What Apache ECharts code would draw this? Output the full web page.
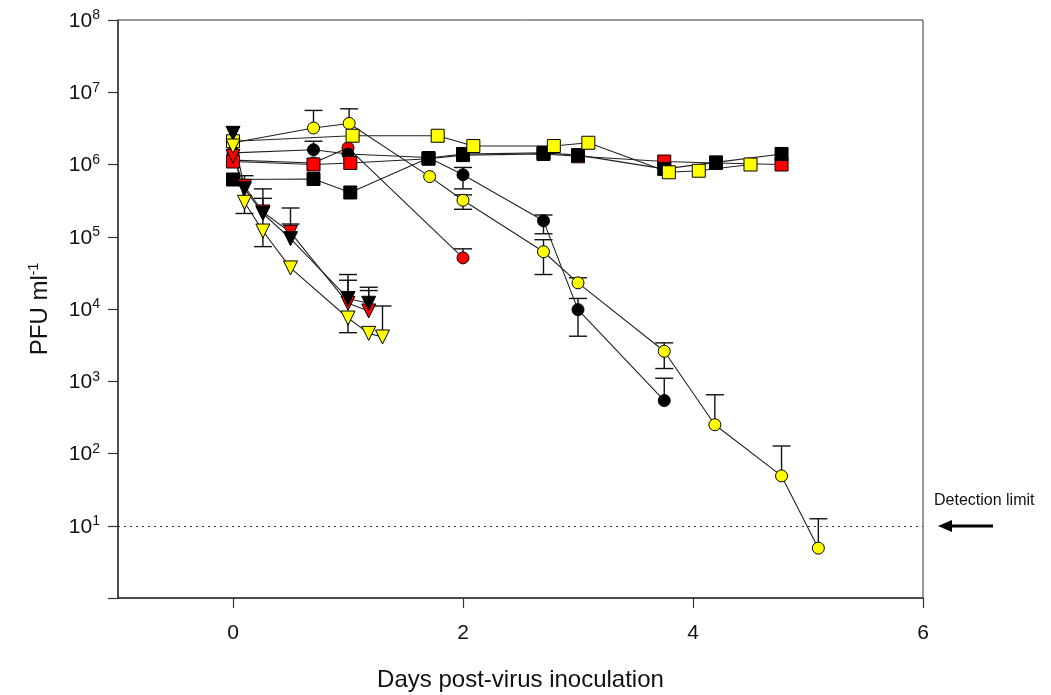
<!DOCTYPE html>
<html>
<head>
<meta charset="utf-8">
<script src="https://cdn.jsdelivr.net/npm/echarts@6/dist/echarts.min.js"></script>
<style>
html,body{margin:0;padding:0;background:#fff;}
#chart{width:1051px;height:695px;}
</style>
</head>
<body>
<div id="chart"></div>
<script>
// ---- data (x = days post-inoculation, y = PFU/ml) ----
const xTickValues = [0, 2, 4, 6];
const detectionLimit = 10;

const blackSquares  = [[0,6.2e5],[0.7,6.3e5],[1.02,4.1e5],[1.7,1.23e6],[2.0,1.4e6],[2.7,1.45e6],[3.0,1.35e6],[3.75,8.7e5],[4.2,1.07e6],[4.77,1.4e6]];
const redSquares    = [[0,1.1e6],[0.7,1.0e6],[1.02,1.05e6],[1.7,1.2e6],[2.0,1.35e6],[2.7,1.4e6],[3.0,1.3e6],[3.75,1.1e6],[4.2,1.05e6],[4.77,1.0e6]];
const yellowSquares = [[0,2.1e6],[1.04,2.5e6],[1.78,2.5e6],[2.09,1.8e6],[2.79,1.8e6],[3.09,2.0e6],[3.79,7.8e5],[4.05,8.2e5],[4.5,1.0e6]];

const blackCircles  = [[0,1.45e6],[0.7,1.6e6],[1.0,1.4e6],[1.7,1.25e6],[2.0,7.2e5],[2.7,1.66e5],[3.0,9.8e3],[3.75,5.4e2]];
const redCircles    = [[0,1.15e6],[0.7,1.05e6],[1.0,1.7e6],[2.0,5.1e4]];
const yellowCircles = [[0,2.0e6],[0.7,3.2e6],[1.01,3.7e6],[1.71,6.8e5],[2.0,3.2e5],[2.7,6.2e4],[3.0,2.3e4],[3.75,2.6e3],[4.19,2.5e2],[4.77,49],[5.09,4.9]];

const blackTriangles  = [[0,2.7e6],[0.1,4.6e5],[0.26,2.1e5],[0.5,9.4e4],[1.0,1.4e4],[1.18,1.2e4]];
const redTriangles    = [[0,1.3e6],[0.1,5.0e5],[0.26,2.2e5],[0.5,1.15e5],[1.0,1.2e4],[1.18,9.4e3]];
const yellowTriangles = [[0,1.8e6],[0.1,3.0e5],[0.26,1.2e5],[0.5,3.7e4],[1.0,7.5e3],[1.18,4.6e3],[1.3,4.1e3]];

// error bars: [x, value, low, high]
const errorBars = [
  [0.7,3.2e6,3.2e6,5.6e6],[1.01,3.7e6,3.7e6,5.9e6],
  [2.0,3.2e5,2.4e5,3.8e5],[2.7,6.2e4,3.0e4,9.1e4],[3.0,2.3e4,2.3e4,2.7e4],
  [3.75,2.6e3,1.5e3,3.4e3],[4.19,2.5e2,2.5e2,6.5e2],[4.77,49,49,127],[5.09,4.9,4.9,12.5],
  [2.0,7.2e5,4.6e5,9.1e5],[2.7,1.66e5,1.1e5,2.0e5],[3.0,9.8e3,4.2e3,1.4e4],[3.75,5.4e2,5.4e2,1.1e3],
  [2.0,5.1e4,5.1e4,6.8e4],[0.7,1.6e6,1.6e6,2.1e6],
  [0.1,4.6e5,4.6e5,7.0e5],[0.26,2.1e5,2.1e5,4.6e5],[0.5,9.4e4,9.4e4,1.5e5],[1.0,1.4e4,1.4e4,2.5e4],[1.18,1.2e4,1.2e4,2.0e4],
  [0.5,1.15e5,1.15e5,2.5e5],[1.0,1.2e4,1.2e4,3.0e4],[1.18,9.4e3,9.4e3,1.8e4],
  [0.1,3.0e5,2.1e5,3.0e5],[0.26,1.2e5,7.3e4,3.4e5],[1.0,7.5e3,4.7e3,7.5e3],[1.3,4.1e3,4.1e3,1.1e4]
];

// ---- chart ----
const chart = echarts.init(document.getElementById('chart'), null, {renderer: 'canvas'});
const FONT = '"Liberation Sans", Arial, sans-serif';
const AX = '#333';

function markerSeries(name, data, symbol, color, size, rotate) {
  return {
    name: name, type: 'line', data: data, symbol: symbol, symbolSize: size,
    symbolRotate: rotate || 0, showSymbol: true,
    lineStyle: {color: '#222', width: 1.1},
    itemStyle: {color: color, borderColor: '#000', borderWidth: 1},
    emphasis: {disabled: true}, z: 3, animation: false
  };
}

const option = {
  animation: false,
  grid: {left: 118, right: 128, top: 20, bottom: 97, show: true, borderColor: AX, borderWidth: 1,
         backgroundColor: 'transparent', containLabel: false, outerBoundsMode: 'none'},
  xAxis: {
    type: 'value', min: -1, max: 6,
    axisLine: {show: true, onZero: false, lineStyle: {color: AX, width: 1.5}},
    axisTick: {show: true, length: 10, customValues: xTickValues, lineStyle: {color: AX, width: 1.2}},
    axisLabel: {customValues: xTickValues, fontFamily: FONT, fontSize: 21, color: '#111', margin: 25},
    splitLine: {show: false},
    name: 'Days post-virus inoculation', nameLocation: 'middle', nameGap: 70,
    nameTextStyle: {fontFamily: FONT, fontSize: 24, color: '#111'}
  },
  yAxis: {
    type: 'log', logBase: 10, min: 1, max: 1e8, splitNumber: 8,
    axisLine: {show: true, onZero: false, lineStyle: {color: AX, width: 1.5}},
    axisTick: {show: true, length: 10, lineStyle: {color: AX, width: 1.2}},
    minorTick: {show: false},
    axisLabel: {
      margin: 18, color: '#111',
      formatter: function (v) {
        const e = Math.round(Math.log10(v));
        if (e < 1) return '';
        return '{b|10}{s|' + e + '}';
      },
      rich: {
        b: {fontFamily: FONT, fontSize: 21, color: '#111', verticalAlign: 'bottom'},
        s: {fontFamily: FONT, fontSize: 14, color: '#111', verticalAlign: 'bottom', padding: [0, 0, 9, 0]}
      }
    },
    splitLine: {show: false},
    name: '{b|PFU ml}{s|-1}', nameLocation: 'middle', nameGap: 66,
    nameTextStyle: {
      rich: {
        b: {fontFamily: FONT, fontSize: 24, color: '#111', verticalAlign: 'bottom'},
        s: {fontFamily: FONT, fontSize: 14, color: '#111', verticalAlign: 'bottom', padding: [0, 0, 11, 0]}
      }
    }
  },
  series: [
    {
      type: 'custom', data: errorBars, z: 2, animation: false, silent: true,
      renderItem: function (params, api) {
        const x = api.value(0), v = api.value(1), lo = api.value(2), hi = api.value(3);
        const pLo = api.coord([x, lo]), pHi = api.coord([x, hi]);
        const hw = 9;
        const st = {stroke: '#111', lineWidth: 1.4};
        const children = [{type: 'line', shape: {x1: pLo[0], y1: pLo[1], x2: pHi[0], y2: pHi[1]}, style: st}];
        if (hi !== v) children.push({type: 'line', shape: {x1: pHi[0] - hw, y1: pHi[1], x2: pHi[0] + hw, y2: pHi[1]}, style: st});
        if (lo !== v) children.push({type: 'line', shape: {x1: pLo[0] - hw, y1: pLo[1], x2: pLo[0] + hw, y2: pLo[1]}, style: st});
        return {type: 'group', children: children};
      }
    },
    markerSeries('Red circles', redCircles, 'circle', '#ff0000', 12),
    markerSeries('Black circles', blackCircles, 'circle', '#000000', 12),
    markerSeries('Yellow circles', yellowCircles, 'circle', '#ffff00', 12),
    markerSeries('Red squares', redSquares, 'rect', '#ff0000', 13),
    markerSeries('Black squares', blackSquares, 'rect', '#000000', 13),
    markerSeries('Yellow squares', yellowSquares, 'rect', '#ffff00', 13),
    markerSeries('Red triangles', redTriangles, 'triangle', '#ff0000', 14, 180),
    markerSeries('Black triangles', blackTriangles, 'triangle', '#000000', 14, 180),
    markerSeries('Yellow triangles', yellowTriangles, 'triangle', '#ffff00', 14, 180),
    {
      type: 'line', data: [], silent: true,
      markLine: {
        silent: true, symbol: ['none', 'none'], label: {show: false},
        lineStyle: {color: '#333', type: [2, 4], width: 1.2},
        data: [{yAxis: detectionLimit}]
      }
    }
  ],
  graphic: [
    {type: 'text', left: 934, top: 493, style: {text: 'Detection limit', font: '16px ' + FONT, fill: '#111'}},
    {type: 'line', shape: {x1: 948, y1: 526, x2: 993, y2: 526}, style: {stroke: '#000', lineWidth: 3}},
    {type: 'polygon', shape: {points: [[938, 526], [952, 520], [952, 532]]}, style: {fill: '#000'}}
  ]
};
chart.setOption(option);
</script>
</body>
</html>
